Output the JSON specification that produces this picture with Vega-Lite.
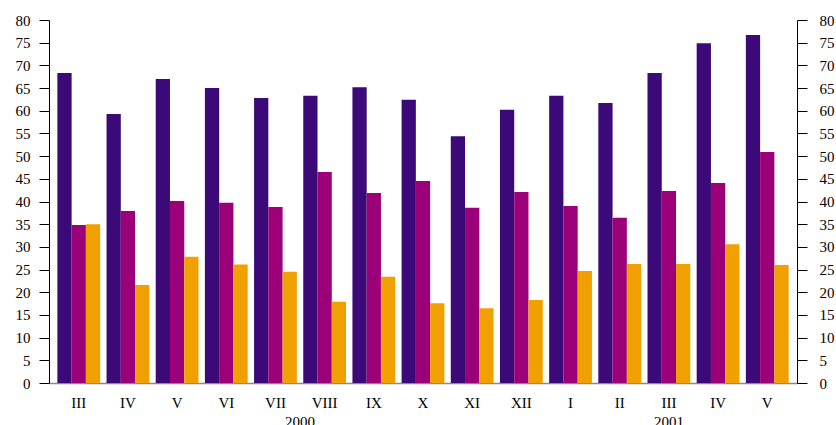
{
  "$schema": "https://vega.github.io/schema/vega-lite/v6.json",
  "width": 748,
  "height": 363,
  "autosize": {"type": "none"},
  "padding": {"left": 49, "top": 20, "right": 39, "bottom": 42},
  "background": "white",
  "datasets": {
    "bars": [
      {"period": "01 III", "series": "s1", "value": 68.3},
      {"period": "01 III", "series": "s2", "value": 34.8},
      {"period": "01 III", "series": "s3", "value": 35.0},
      {"period": "02 IV", "series": "s1", "value": 59.3},
      {"period": "02 IV", "series": "s2", "value": 37.9},
      {"period": "02 IV", "series": "s3", "value": 21.6},
      {"period": "03 V", "series": "s1", "value": 67.0},
      {"period": "03 V", "series": "s2", "value": 40.1},
      {"period": "03 V", "series": "s3", "value": 27.8},
      {"period": "04 VI", "series": "s1", "value": 65.0},
      {"period": "04 VI", "series": "s2", "value": 39.7},
      {"period": "04 VI", "series": "s3", "value": 26.1},
      {"period": "05 VII", "series": "s1", "value": 62.8},
      {"period": "05 VII", "series": "s2", "value": 38.8},
      {"period": "05 VII", "series": "s3", "value": 24.5},
      {"period": "06 VIII", "series": "s1", "value": 63.3},
      {"period": "06 VIII", "series": "s2", "value": 46.5},
      {"period": "06 VIII", "series": "s3", "value": 17.9},
      {"period": "07 IX", "series": "s1", "value": 65.2},
      {"period": "07 IX", "series": "s2", "value": 41.9},
      {"period": "07 IX", "series": "s3", "value": 23.4},
      {"period": "08 X", "series": "s1", "value": 62.4},
      {"period": "08 X", "series": "s2", "value": 44.5},
      {"period": "08 X", "series": "s3", "value": 17.6},
      {"period": "09 XI", "series": "s1", "value": 54.4},
      {"period": "09 XI", "series": "s2", "value": 38.6},
      {"period": "09 XI", "series": "s3", "value": 16.5},
      {"period": "10 XII", "series": "s1", "value": 60.2},
      {"period": "10 XII", "series": "s2", "value": 42.1},
      {"period": "10 XII", "series": "s3", "value": 18.3},
      {"period": "11 I", "series": "s1", "value": 63.3},
      {"period": "11 I", "series": "s2", "value": 39.0},
      {"period": "11 I", "series": "s3", "value": 24.7},
      {"period": "12 II", "series": "s1", "value": 61.7},
      {"period": "12 II", "series": "s2", "value": 36.4},
      {"period": "12 II", "series": "s3", "value": 26.2},
      {"period": "13 III", "series": "s1", "value": 68.3},
      {"period": "13 III", "series": "s2", "value": 42.3},
      {"period": "13 III", "series": "s3", "value": 26.2},
      {"period": "14 IV", "series": "s1", "value": 74.9},
      {"period": "14 IV", "series": "s2", "value": 44.1},
      {"period": "14 IV", "series": "s3", "value": 30.6},
      {"period": "15 V", "series": "s1", "value": 76.7},
      {"period": "15 V", "series": "s2", "value": 50.9},
      {"period": "15 V", "series": "s3", "value": 26.0}
    ],
    "years": [
      {"year": "2000", "period": "05 VII"},
      {"year": "2001", "period": "13 III"}
    ]
  },
  "layer": [
    {
      "data": {"name": "bars"},
      "mark": {"type": "bar"},
      "encoding": {
        "x": {
          "field": "period",
          "type": "nominal",
          "scale": {"paddingInner": 0.13, "paddingOuter": 0.17},
          "axis": {
            "title": null,
            "labelExpr": "slice(datum.value, 3)",
            "labelAngle": 0,
            "ticks": false,
            "domainColor": "#8a8a8a",
            "domainWidth": 1.5,
            "labelPadding": 12
          }
        },
        "xOffset": {
          "field": "series",
          "type": "nominal",
          "scale": {"paddingInner": 0, "paddingOuter": 0}
        },
        "y": {
          "field": "value",
          "type": "quantitative",
          "scale": {"domain": [0, 80], "nice": false},
          "axis": {
            "title": null,
            "orient": "left",
            "grid": false,
            "values": [0, 5, 10, 15, 20, 25, 30, 35, 40, 45, 50, 55, 60, 65, 70, 75, 80],
            "tickSize": 10,
            "labelPadding": 9
          }
        },
        "color": {
          "field": "series",
          "type": "nominal",
          "scale": {"domain": ["s1", "s2", "s3"], "range": ["#3c0a78", "#9c0079", "#f0a000"]},
          "legend": null
        }
      }
    },
    {
      "data": {"name": "years"},
      "transform": [{"filter": "datum.year == '2000'"}],
      "mark": {"type": "text", "baseline": "top", "align": "center", "dy": 32, "fontSize": 15},
      "encoding": {
        "x": {"field": "period", "type": "nominal", "bandPosition": 1.075, "axis": null},
        "y": {
          "datum": 0,
          "type": "quantitative",
          "axis": {
            "title": null,
            "orient": "right",
            "grid": false,
            "values": [0, 5, 10, 15, 20, 25, 30, 35, 40, 45, 50, 55, 60, 65, 70, 75, 80],
            "tickSize": 10,
            "labelPadding": 12
          }
        },
        "text": {"field": "year"}
      }
    },
    {
      "data": {"name": "years"},
      "transform": [{"filter": "datum.year == '2001'"}],
      "mark": {"type": "text", "baseline": "top", "align": "center", "dy": 32, "fontSize": 15},
      "encoding": {
        "x": {"field": "period", "type": "nominal", "bandPosition": 0.5, "axis": null},
        "y": {"datum": 0, "type": "quantitative", "axis": null},
        "text": {"field": "year"}
      }
    }
  ],
  "resolve": {"axis": {"x": "independent", "y": "independent"}},
  "config": {
    "font": "Liberation Serif",
    "view": {"stroke": null},
    "axis": {
      "labelFont": "Liberation Serif",
      "labelFontSize": 15,
      "labelColor": "#000000",
      "domainColor": "#000000",
      "tickColor": "#000000",
      "labelOverlap": false
    },
    "text": {"font": "Liberation Serif", "color": "#000000"}
  }
}
